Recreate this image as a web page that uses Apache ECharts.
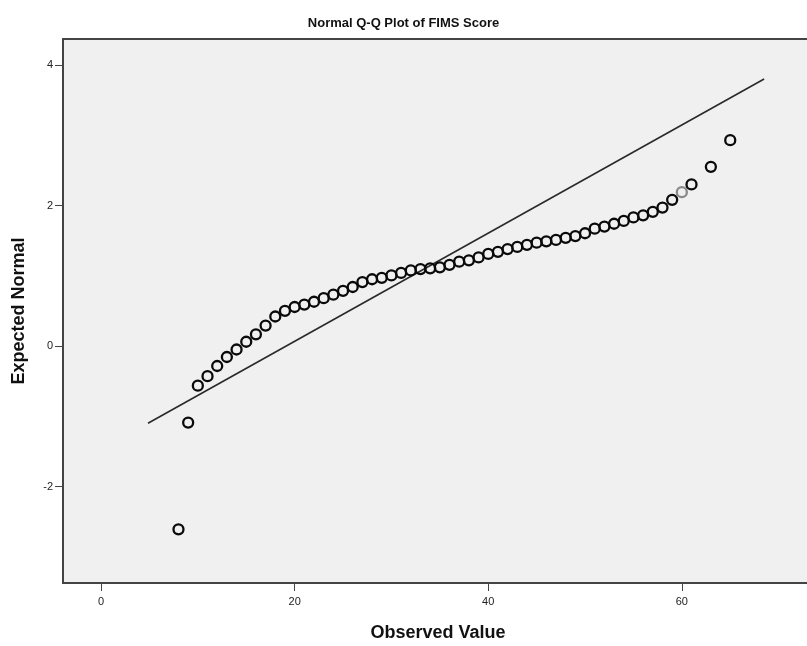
<!DOCTYPE html>
<html>
<head>
<meta charset="utf-8">
<script src="https://cdn.jsdelivr.net/npm/echarts@6/dist/echarts.min.js"></script>
<style>
html,body{margin:0;padding:0;background:#fff;}
#chart{width:807px;height:646px;}
</style>
</head>
<body>
<div id="chart"></div>
<script>
// Observed values (x) and expected normal quantiles (y)
var observed = [8,9,10,11,12,13,14,15,16,17,18,19,20,21,22,23,24,25,26,27,28,29,30,31,32,33,34,35,36,37,38,39,40,41,42,43,44,45,46,47,48,49,50,51,52,53,54,55,56,57,58,59,60,61,63,65];
var expected = [-2.61,-1.09,-0.565,-0.43,-0.285,-0.157,-0.05,0.06,0.166,0.29,0.42,0.50,0.555,0.59,0.63,0.68,0.73,0.785,0.84,0.91,0.95,0.97,1.005,1.04,1.075,1.095,1.105,1.12,1.155,1.20,1.22,1.26,1.31,1.34,1.38,1.41,1.44,1.47,1.49,1.51,1.54,1.565,1.605,1.67,1.70,1.74,1.78,1.83,1.86,1.91,1.97,2.08,2.19,2.30,2.55,2.93];
var grayPoints = [60];
// Reference line endpoints
var lineX = [4.85, 68.5];
var lineY = [-1.10, 3.80];
var xTicks = [0, 20, 40, 60];
var yTicks = [-2, 0, 2, 4];

var pts = observed.map(function(v, i){
  var d = {value:[v, expected[i]]};
  if (grayPoints.indexOf(v) >= 0) d.itemStyle = {borderColor:'#8a8a8a'};
  return d;
});
var linePts = lineX.map(function(v,i){return [v, lineY[i]];});

var chart = echarts.init(document.getElementById('chart'), null, {renderer:'canvas'});
var font = '"Liberation Sans", Arial, sans-serif';
chart.setOption({
  animation:false,
  backgroundColor:'#ffffff',
  title:{
    text:'Normal Q-Q Plot of FIMS Score',
    left:'center', top:12,
    textStyle:{fontFamily:font, fontSize:13, fontWeight:'bold', color:'#111'}
  },
  grid:{
    left:63, top:39, width:750, height:544,
    outerBoundsMode:'none', containLabel:false,
    show:true, backgroundColor:'#f0f0f0', borderColor:'#444', borderWidth:2
  },
  xAxis:{
    type:'value', min:-3.93, max:73.55,
    name:'Observed Value', nameLocation:'middle', nameGap:41,
    nameTextStyle:{fontFamily:font, fontSize:18, fontWeight:'bold', color:'#111'},
    splitLine:{show:false},
    axisLine:{show:true, onZero:false, lineStyle:{color:'#444', width:2}},
    axisTick:{show:true, length:8, customValues:xTicks, lineStyle:{color:'#444', width:1}},
    axisLabel:{customValues:xTicks, margin:13, fontFamily:font, fontSize:11, color:'#222'}
  },
  yAxis:{
    type:'value', min:-3.374, max:4.37,
    name:'Expected Normal', nameLocation:'middle', nameGap:35, nameRotate:90,
    nameTextStyle:{fontFamily:font, fontSize:18, fontWeight:'bold', color:'#111'},
    splitLine:{show:false},
    axisLine:{show:true, onZero:false, lineStyle:{color:'#444', width:2}},
    axisTick:{show:true, length:8, customValues:yTicks, lineStyle:{color:'#444', width:1}},
    axisLabel:{customValues:yTicks, margin:10, fontFamily:font, fontSize:11, color:'#222'}
  },
  series:[
    {
      type:'line', data:linePts, symbol:'none', silent:true,
      lineStyle:{color:'#2a2a2a', width:1.6}, z:2
    },
    {
      type:'scatter', data:pts, symbol:'circle', symbolSize:10,
      itemStyle:{color:'rgba(0,0,0,0)', borderColor:'#0a0a0a', borderWidth:2.3, opacity:1},
      z:3
    }
  ]
});
</script>
</body>
</html>
